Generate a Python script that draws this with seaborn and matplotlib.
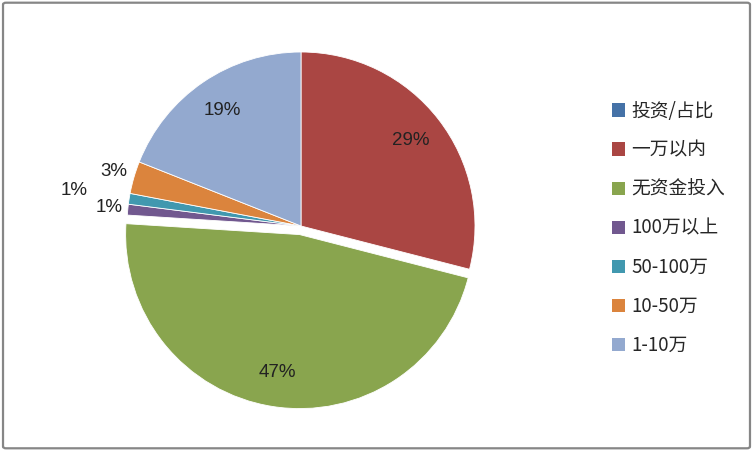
import matplotlib
matplotlib.use("Agg")
import matplotlib.pyplot as plt
import numpy as np
import seaborn as sns
from matplotlib.patches import FancyBboxPatch, Patch

# data
categories = ["投资/占比", "一万以内", "无资金投入", "100万以上", "50-100万", "10-50万", "1-10万"]
shares = [0, 29, 47, 1, 1, 3, 19]
colors = ["#4572A7", "#AA4643", "#89A54E", "#71588F", "#4198AF", "#DB843D", "#93A9CF"]

# label placement (fraction of radius), explode per slice
label_r = [0, 0.8, 0.8, 1.11, 1.32, 1.12, 0.8]
explode = [0, 0, 0.05, 0, 0, 0, 0]

sns.set_style("white")
plt.rcParams["font.family"] = ["Noto Sans CJK SC", "DejaVu Sans"]

fig = plt.figure(figsize=(7.53, 4.51), dpi=100)
W, H = 753, 451

# pie axes: unit circle mapped onto the pixel box of the reference
cx, cy, R = 301, 226, 174
ax = fig.add_axes([(cx - R) / W, (H - cy - R) / H, 2 * R / W, 2 * R / H])

wedges, _ = ax.pie(
    shares,
    colors=colors,
    startangle=90,
    counterclock=False,
    explode=explode,
    wedgeprops=dict(edgecolor="white", linewidth=0.6),
)
ax.set_xlim(-1, 1)
ax.set_ylim(-1, 1)
ax.set_aspect("equal")
ax.axis("off")

for w, v, r in zip(wedges, shares, label_r):
    if v == 0:
        continue
    ang = np.deg2rad((w.theta1 + w.theta2) / 2)
    x0, y0 = w.center
    ax.text(x0 + r * np.cos(ang), y0 + r * np.sin(ang), f"{v}%",
            ha="center", va="center", fontsize=13.5, color="#222222",
            family=["Liberation Sans", "DejaVu Sans"])

handles = [Patch(facecolor=c, edgecolor="none") for c in colors]
fig.legend(handles, categories, loc="upper left",
           bbox_to_anchor=(604 / W, 1 - 93 / H), frameon=False,
           fontsize=13.5, handlelength=0.7, handleheight=0.7,
           handletextpad=0.35, labelspacing=0.965, borderaxespad=0)

border = FancyBboxPatch((0.004, 0.006), 0.992, 0.988, transform=fig.transFigure,
                        boxstyle="round,pad=0,rounding_size=0.004",
                        facecolor="none", edgecolor="#868686", linewidth=1.6)
fig.patches.append(border)

fig.savefig("out.png", dpi=100)
